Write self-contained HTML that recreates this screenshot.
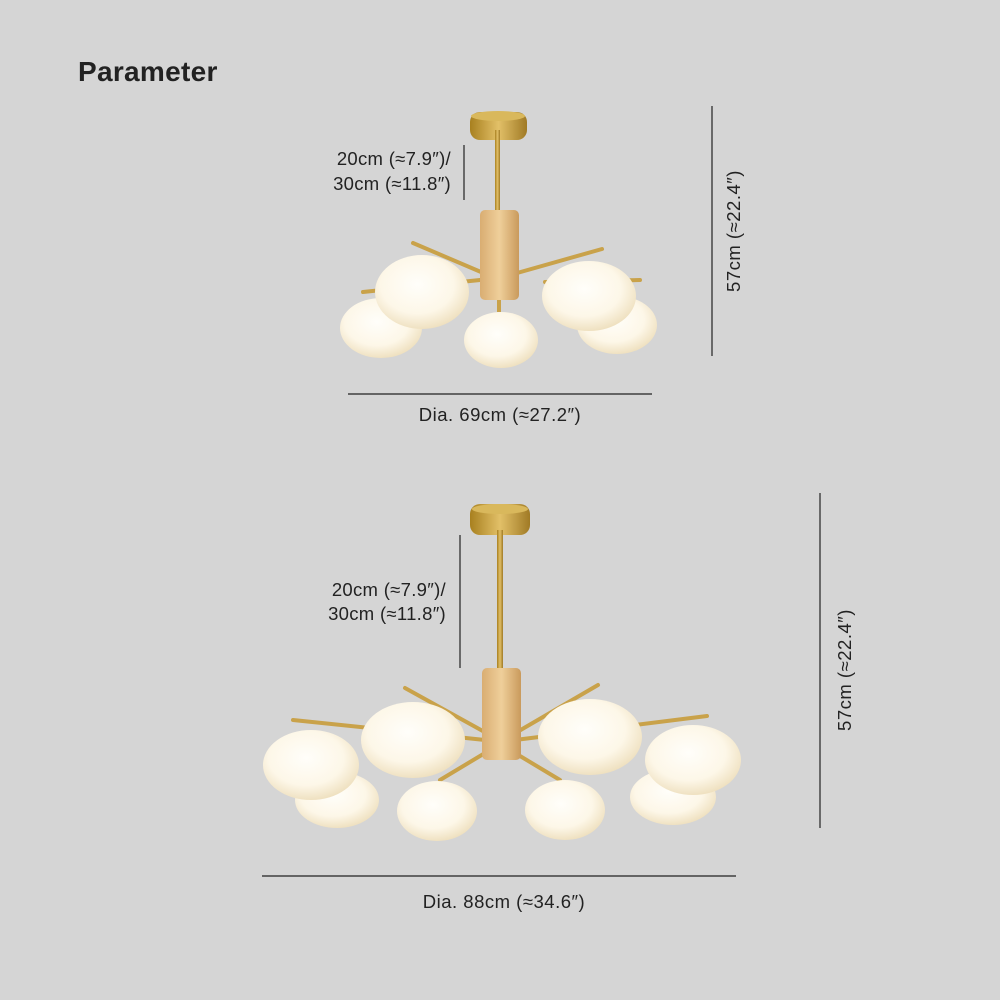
<!DOCTYPE html>
<html><head><meta charset="utf-8"><style>
html,body{margin:0;padding:0;background:#d5d5d5;}
svg{display:block}
text{font-family:"Liberation Sans",sans-serif;fill:#222}
</style></head><body>
<svg width="1000" height="1000" viewBox="0 0 1000 1000">
<defs>
<radialGradient id="g" cx="45%" cy="40%" r="65%"><stop offset="0" stop-color="#fffefa"/><stop offset="0.6" stop-color="#fdf7e8"/><stop offset="1" stop-color="#ecdcb8"/></radialGradient>
<linearGradient id="gold" x1="0" x2="1"><stop offset="0" stop-color="#a8801f"/><stop offset="0.5" stop-color="#e2c068"/><stop offset="1" stop-color="#a07a25"/></linearGradient>
<linearGradient id="wood" x1="0" x2="1"><stop offset="0" stop-color="#d9ad72"/><stop offset="0.5" stop-color="#efcf9a"/><stop offset="1" stop-color="#c99a5c"/></linearGradient>
</defs>
<rect width="1000" height="1000" fill="#d5d5d5"/>
<text x="78" y="81" font-size="28" font-weight="bold" fill="#1c1c1c" letter-spacing="0.3">Parameter</text>

<!-- TOP -->
<g stroke="#222" stroke-width="1.2">
<line x1="464" y1="145" x2="464" y2="200"/>
<line x1="712" y1="106" x2="712" y2="356"/>
<line x1="348" y1="394" x2="652" y2="394"/>
</g>
<text x="451" y="165" font-size="18.5" text-anchor="end" letter-spacing="0.3">20cm (≈7.9″)/</text>
<text x="451" y="190" font-size="18.5" text-anchor="end" letter-spacing="0.3">30cm (≈11.8″)</text>
<text x="500" y="421" font-size="18.5" text-anchor="middle" letter-spacing="0.5">Dia. 69cm (≈27.2″)</text>
<text transform="translate(740,231) rotate(-90)" font-size="18.5" text-anchor="middle" letter-spacing="0.5">57cm (≈22.4″)</text>

<rect x="470" y="112" width="57" height="28" rx="10" fill="url(#gold)"/>
<ellipse cx="498" cy="116" rx="27" ry="5" fill="#d9b85c"/>
<rect x="495" y="130" width="5" height="82" fill="url(#gold)"/>
<g stroke="#c9a24a" stroke-width="4" stroke-linecap="round">
<line x1="413" y1="243" x2="488" y2="275"/>
<line x1="602" y1="249" x2="510" y2="275"/>
<line x1="363" y1="292" x2="480" y2="280"/>
<line x1="545" y1="282" x2="640" y2="280"/>
</g>
<rect x="480" y="210" width="39" height="90" rx="5" fill="url(#wood)"/>
<ellipse cx="381" cy="328" rx="41" ry="30" fill="url(#g)"/>
<ellipse cx="617" cy="325" rx="40" ry="29" fill="url(#g)"/>
<ellipse cx="422" cy="292" rx="47" ry="37" fill="url(#g)"/>
<ellipse cx="589" cy="296" rx="47" ry="35" fill="url(#g)"/>
<rect x="497" y="300" width="4" height="12" fill="#c9a24a"/>
<ellipse cx="501" cy="340" rx="37" ry="28" fill="url(#g)"/>

<!-- BOTTOM -->
<g stroke="#222" stroke-width="1.2">
<line x1="460" y1="535" x2="460" y2="668"/>
<line x1="820" y1="493" x2="820" y2="828"/>
<line x1="262" y1="876" x2="736" y2="876"/>
</g>
<text x="446" y="596" font-size="18.5" text-anchor="end" letter-spacing="0.3">20cm (≈7.9″)/</text>
<text x="446" y="620" font-size="18.5" text-anchor="end" letter-spacing="0.3">30cm (≈11.8″)</text>
<text x="504" y="908" font-size="18.5" text-anchor="middle" letter-spacing="0.5">Dia. 88cm (≈34.6″)</text>
<text transform="translate(851,670) rotate(-90)" font-size="18.5" text-anchor="middle" letter-spacing="0.5">57cm (≈22.4″)</text>

<rect x="470" y="504" width="60" height="31" rx="10" fill="url(#gold)"/>
<ellipse cx="500" cy="509" rx="28" ry="5" fill="#d9b85c"/>
<rect x="497" y="530" width="6" height="140" fill="url(#gold)"/>
<g stroke="#c9a24a" stroke-width="4" stroke-linecap="round">
<line x1="405" y1="688" x2="490" y2="735"/>
<line x1="598" y1="685" x2="512" y2="735"/>
<line x1="293" y1="720" x2="485" y2="740"/>
<line x1="707" y1="716" x2="515" y2="740"/>
<line x1="440" y1="780" x2="490" y2="750"/>
<line x1="560" y1="780" x2="510" y2="750"/>
</g>
<rect x="482" y="668" width="39" height="92" rx="5" fill="url(#wood)"/>
<ellipse cx="337" cy="800" rx="42" ry="28" fill="url(#g)"/>
<ellipse cx="673" cy="797" rx="43" ry="28" fill="url(#g)"/>
<ellipse cx="311" cy="765" rx="48" ry="35" fill="url(#g)"/>
<ellipse cx="693" cy="760" rx="48" ry="35" fill="url(#g)"/>
<ellipse cx="413" cy="740" rx="52" ry="38" fill="url(#g)"/>
<ellipse cx="590" cy="737" rx="52" ry="38" fill="url(#g)"/>
<ellipse cx="437" cy="811" rx="40" ry="30" fill="url(#g)"/>
<ellipse cx="565" cy="810" rx="40" ry="30" fill="url(#g)"/>
</svg>
</body></html>
